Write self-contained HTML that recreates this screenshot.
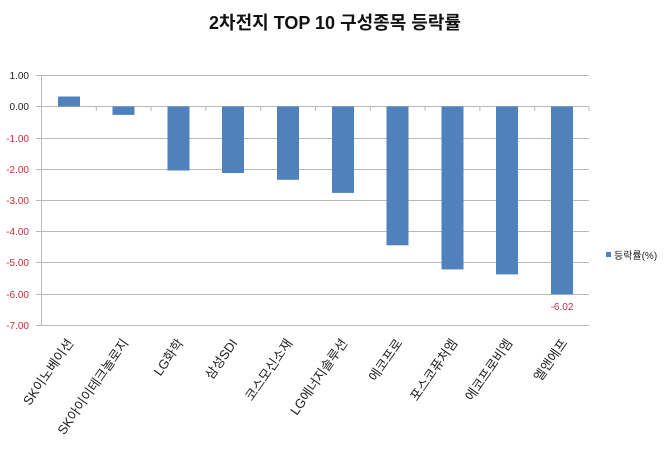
<!DOCTYPE html>
<html><head><meta charset="utf-8"><style>
body{margin:0;background:#fff}
svg text{font-family:"Liberation Sans","Noto Sans CJK KR",sans-serif}
</style></head><body>
<svg width="670" height="458" xmlns="http://www.w3.org/2000/svg">
<text x="335" y="29" text-anchor="middle" font-size="18" font-weight="bold" fill="#111">2차전지 TOP 10 구성종목 등락률</text>
<g stroke="#b8b8b8" stroke-width="1">
<line x1="41" y1="75.5" x2="589" y2="75.5"/>
<line x1="41" y1="138.5" x2="589" y2="138.5"/>
<line x1="41" y1="169.5" x2="589" y2="169.5"/>
<line x1="41" y1="200.5" x2="589" y2="200.5"/>
<line x1="41" y1="231.5" x2="589" y2="231.5"/>
<line x1="41" y1="262.5" x2="589" y2="262.5"/>
<line x1="41" y1="294.5" x2="589" y2="294.5"/>
<line x1="41" y1="325.5" x2="589" y2="325.5"/>
<line x1="41.5" y1="75" x2="41.5" y2="325"/>
<line x1="41" y1="106.5" x2="589" y2="106.5"/>
</g>
<g stroke="#b8b8b8">
<line x1="36" y1="75.5" x2="41" y2="75.5"/><line x1="36" y1="106.5" x2="41" y2="106.5"/><line x1="36" y1="138.5" x2="41" y2="138.5"/><line x1="36" y1="169.5" x2="41" y2="169.5"/><line x1="36" y1="200.5" x2="41" y2="200.5"/><line x1="36" y1="231.5" x2="41" y2="231.5"/><line x1="36" y1="262.5" x2="41" y2="262.5"/><line x1="36" y1="294.5" x2="41" y2="294.5"/><line x1="36" y1="325.5" x2="41" y2="325.5"/>
<line x1="96.3" y1="106" x2="96.3" y2="111"/><line x1="151.1" y1="106" x2="151.1" y2="111"/><line x1="205.9" y1="106" x2="205.9" y2="111"/><line x1="260.7" y1="106" x2="260.7" y2="111"/><line x1="315.5" y1="106" x2="315.5" y2="111"/><line x1="370.3" y1="106" x2="370.3" y2="111"/><line x1="425.1" y1="106" x2="425.1" y2="111"/><line x1="479.9" y1="106" x2="479.9" y2="111"/><line x1="534.7" y1="106" x2="534.7" y2="111"/><line x1="589" y1="106" x2="589" y2="111"/>
</g>
<g font-size="10" text-anchor="end">
<text x="29" y="79" fill="#222">1.00</text>
<text x="29" y="110" fill="#222">0.00</text>
<text x="29" y="142" fill="#c0303a">-1.00</text>
<text x="29" y="173" fill="#c0303a">-2.00</text>
<text x="29" y="204" fill="#c0303a">-3.00</text>
<text x="29" y="235" fill="#c0303a">-4.00</text>
<text x="29" y="266" fill="#c0303a">-5.00</text>
<text x="29" y="298" fill="#c0303a">-6.00</text>
<text x="29" y="329" fill="#c0303a">-7.00</text>
</g>
<g fill="#4f81bd">
<rect x="58" y="96.5" width="22" height="10"/>
<rect x="112.5" y="106.5" width="22" height="8.4"/>
<rect x="167.5" y="106.5" width="22" height="64"/>
<rect x="222" y="106.5" width="22" height="66.5"/>
<rect x="277" y="106.5" width="22" height="73.3"/>
<rect x="332" y="106.5" width="22" height="86.4"/>
<rect x="386.5" y="106.5" width="22" height="138.8"/>
<rect x="441.5" y="106.5" width="22" height="162.9"/>
<rect x="496" y="106.5" width="22" height="167.9"/>
<rect x="551" y="106.5" width="22" height="187.8"/>
</g>
<text x="562" y="310" font-size="10" text-anchor="middle" fill="#c0303a">-6.02</text>
<rect x="606" y="252" width="5" height="5" fill="#4f81bd"/>
<text x="614" y="259" font-size="10" fill="#222">등락률(%)</text>
<g font-size="13" text-anchor="end" fill="#222">
<text transform="translate(74,343) rotate(-55)">SK이노베이션</text>
<text transform="translate(129,343) rotate(-55)">SK아이이테크놀로지</text>
<text transform="translate(184,343) rotate(-55)">LG화학</text>
<text transform="translate(238,343) rotate(-55)">삼성SDI</text>
<text transform="translate(293,343) rotate(-55)">코스모신소재</text>
<text transform="translate(348,343) rotate(-55)">LG에너지솔루션</text>
<text transform="translate(403,343) rotate(-55)">에코프로</text>
<text transform="translate(458,343) rotate(-55)">포스코퓨처엠</text>
<text transform="translate(513,343) rotate(-55)">에코프로비엠</text>
<text transform="translate(568,343) rotate(-55)">엘앤에프</text>
</g>
</svg>
</body></html>
